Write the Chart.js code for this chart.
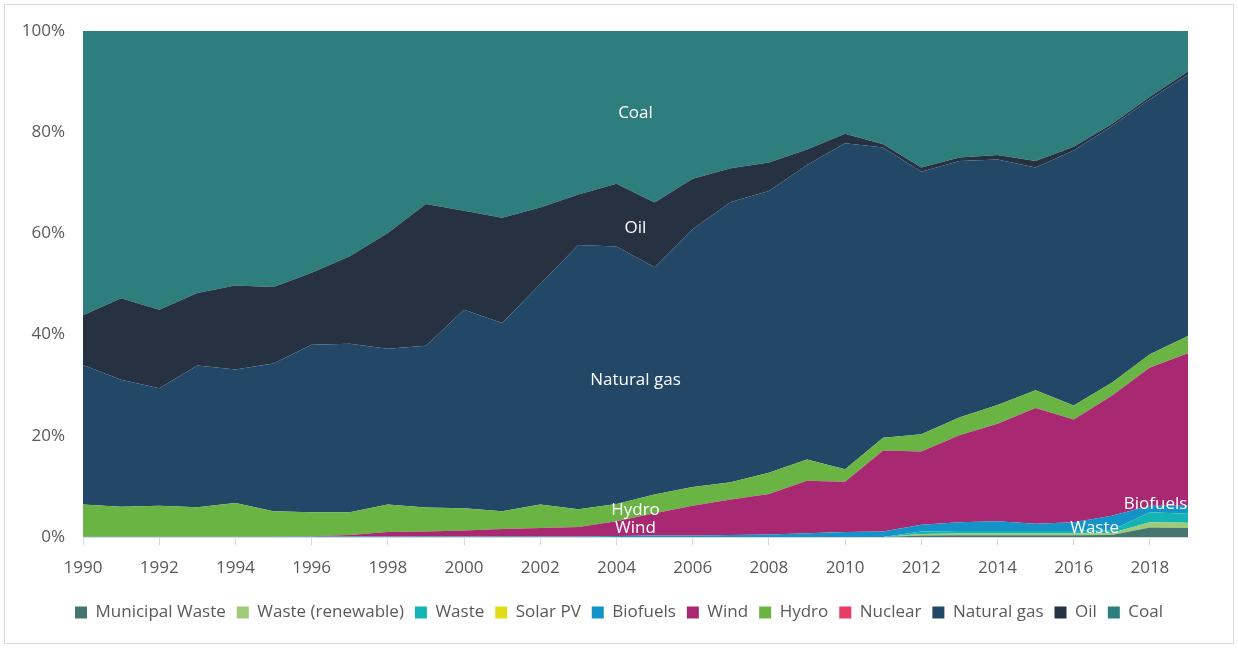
<!DOCTYPE html>
<html>
<head>
<meta charset="utf-8">
<script src="https://cdn.jsdelivr.net/npm/chart.js@4.4.1/dist/chart.umd.min.js"></script>
<style>
html,body{margin:0;padding:0;background:#fff;}
#wrap{width:1238px;height:648px;position:relative;}
</style>
</head>
<body>
<div id="wrap"><canvas id="c" width="1238" height="648"></canvas></div>
<script>
const years = [1990,1991,1992,1993,1994,1995,1996,1997,1998,1999,2000,2001,2002,2003,2004,2005,2006,2007,2008,2009,2010,2011,2012,2013,2014,2015,2016,2017,2018,2019];

const municipalWaste = [0,0,0,0,0,0,0,0,0,0,0,0,0,0,0,0,0,0,0,0,0,0,0.3,0.35,0.35,0.35,0.35,0.4,1.9,1.8];
const wasteRenewable = [0,0,0,0,0,0,0,0,0,0,0,0,0,0,0,0,0,0,0,0,0,0,0.3,0.35,0.35,0.35,0.35,0.4,1.0,1.0];
const waste = [0,0,0,0,0,0,0,0,0,0,0,0,0,0,0,0,0,0,0,0,0,0,0.5,0.5,0.5,0.5,0.5,0.6,2.0,1.8];
const solarPV = [0,0,0,0,0,0,0,0,0,0,0,0,0,0,0,0,0,0,0,0,0,0,0,0,0,0,0,0,0,0];
const biofuels = [0.05,0.05,0.05,0.05,0.05,0.05,0.1,0.1,0.1,0.1,0.1,0.1,0.1,0.1,0.2,0.3,0.3,0.4,0.5,0.75,1.0,1.1,1.3,1.7,1.9,1.4,1.7,2.8,1.3,1.6];
const wind = [0,0,0,0,0,0,0.05,0.3,0.9,1.0,1.2,1.5,1.7,1.9,2.9,4.4,5.9,7.0,8.0,10.35,9.9,16.0,14.5,17.2,19.3,22.9,20.3,23.7,27.3,30.1];
const hydro = [6.35,5.95,6.15,5.85,6.65,5.05,4.75,4.5,5.4,4.75,4.4,3.5,4.6,3.5,3.4,3.7,3.7,3.4,4.2,4.2,2.5,2.5,3.4,3.5,3.7,3.5,2.8,2.6,2.6,3.4];
const nuclear = [0,0,0,0,0,0,0,0,0,0,0,0,0,0,0,0,0,0,0,0,0,0,0,0,0,0,0,0,0,0];
const naturalGas = [27.6,25.1,23.2,28.0,26.4,29.2,33.1,33.3,30.8,31.95,39.2,37.2,43.6,52.2,50.9,44.9,50.9,55.4,55.7,58.2,64.4,57.4,51.9,50.7,48.5,44.0,50.4,50.7,50.4,51.7];
const oil = [9.8,16.1,15.5,14.3,16.6,15.1,14.2,17.3,22.9,28.0,19.6,20.8,15.1,10.0,12.4,12.8,10.0,6.7,5.6,3.1,1.9,0.6,0.8,0.7,0.9,1.3,0.7,0.4,0.5,0.6];
const coal = [56.2,52.8,55.1,51.8,50.3,50.6,47.8,44.5,39.9,34.2,35.5,36.9,34.9,32.3,30.2,33.9,29.2,27.1,26.0,23.4,20.3,22.4,27.0,25.0,24.5,25.7,22.9,18.4,13.0,8.0];

const seriesNames = ["Municipal Waste","Waste (renewable)","Waste","Solar PV","Biofuels","Wind","Hydro","Nuclear","Natural gas","Oil","Coal"];
const seriesData = [municipalWaste,wasteRenewable,waste,solarPV,biofuels,wind,hydro,nuclear,naturalGas,oil,coal];
const seriesColors = ["#44756f","#9dcb78","#14b4b4","#e0dc1c","#1493c8","#a92872","#6ab444","#e83c64","#224767","#263142","#2f7e7e"];
const yTicks = [0,20,40,60,80,100];

// in-chart labels: [text, x index (category position), y value (%)]
const areaLabels = [
  ["Coal", 14.5, 83.7],
  ["Oil", 14.5, 61.1],
  ["Natural gas", 14.5, 31.0],
  ["Hydro", 14.5, 5.3],
  ["Wind", 14.5, 1.8],
  ["Biofuels", 28.15, 6.4],
  ["Waste", 26.55, 1.8]
];

const FONT = '"Open Sans", "Noto Sans", sans-serif';

const labelPlugin = {
  id: 'areaLabels',
  afterDatasetsDraw(chart) {
    const ctx = chart.ctx;
    const xs = chart.scales.x, ys = chart.scales.y;
    ctx.save();
    ctx.fillStyle = '#ffffff';
    ctx.font = '17px ' + FONT;
    ctx.textAlign = 'center';
    ctx.textBaseline = 'middle';
    areaLabels.forEach(([t, xi, yv]) => {
      ctx.fillText(t, xs.getPixelForValue(xi), ys.getPixelForValue(yv));
    });
    ctx.restore();
  }
};

const borderPlugin = {
  id: 'frame',
  beforeDraw(chart) {
    const ctx = chart.ctx;
    ctx.save();
    ctx.fillStyle = '#fff';
    ctx.fillRect(0,0,chart.width,chart.height);
    ctx.strokeStyle = '#d9d9d9';
    ctx.lineWidth = 1;
    ctx.strokeRect(4.5,4.5,chart.width-9,chart.height-9);
    ctx.restore();
  }
};

new Chart(document.getElementById('c'), {
  type: 'line',
  data: {
    labels: years.map(String),
    datasets: seriesNames.map((n,i) => ({
      label: n,
      data: seriesData[i],
      backgroundColor: seriesColors[i],
      borderColor: seriesColors[i],
      borderWidth: 0,
      pointRadius: 0,
      fill: i === 0 ? 'origin' : '-1',
      tension: 0
    }))
  },
  options: {
    responsive: false,
    animation: false,
    layout: { padding: { left: 0, right: 0, top: 31, bottom: 17 } },
    plugins: {
      legend: {
        position: 'bottom',
        labels: {
          boxWidth: 12, boxHeight: 12,
          color: '#595959',
          font: { size: 17, family: FONT },
          padding: 11
        }
      },
      tooltip: { enabled: false }
    },
    scales: {
      x: {
        offset: false,
        grid: { display: true, drawOnChartArea: false, drawTicks: true, tickLength: 8, color: '#d9d9d9' },
        border: { color: '#d9d9d9' },
        ticks: {
          autoSkip: false, maxRotation: 0,
          color: '#595959',
          font: { size: 17, family: FONT },
          padding: 13,
          callback: function(v, i) { return i % 2 === 0 ? years[i] : null; }
        },
        afterFit: (s) => { s.height = 56; }
      },
      y: {
        stacked: true,
        min: 0, max: 100,
        afterBuildTicks: (s) => { s.ticks = yTicks.map(v => ({value: v})); },
        grid: { color: '#d9d9d9', drawTicks: false },
        border: { display: false },
        ticks: {
          color: '#595959',
          padding: 18,
          font: { size: 17, family: FONT },
          callback: v => v + '%'
        },
        afterFit: (s) => { s.width = 83; }
      },
      yRight: {
        type: 'linear',
        position: 'right',
        display: true,
        min: 0, max: 100,
        grid: { display: false, drawTicks: false },
        border: { display: false },
        ticks: { display: false },
        afterFit: (s) => { s.width = 50; }
      }
    }
  },
  plugins: [borderPlugin, labelPlugin]
});
</script>
</body>
</html>
